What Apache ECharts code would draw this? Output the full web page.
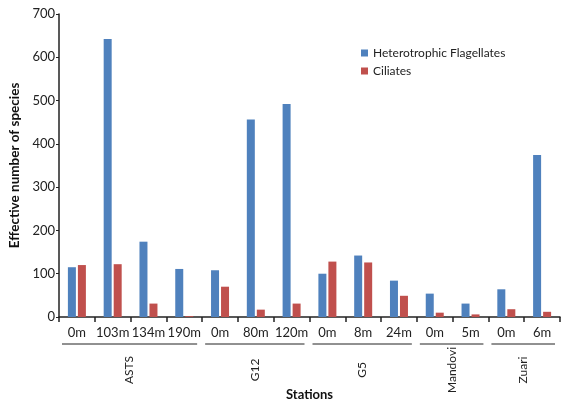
<!DOCTYPE html>
<html>
<head>
<meta charset="utf-8">
<script src="https://cdn.jsdelivr.net/npm/echarts@6/dist/echarts.min.js"></script>
<style>html,body{margin:0;padding:0;background:#fff;}#c{width:564px;height:402px;}</style>
</head>
<body>
<div id="c"></div>
<script>
const categories = ['0m','103m','134m','190m','0m','80m','120m','0m','8m','24m','0m','5m','0m','6m'];
const flagellates = [115, 642, 174, 111, 108, 456, 492, 100, 142, 84, 54, 31, 64, 374];
const ciliates = [120, 122, 31, 2, 70, 17, 31, 128, 126, 49, 10, 6, 18, 12];
const groupNames = ['ASTS', 'G12', 'G5', 'Mandovi', 'Zuari'];
const groupStart = [0, 4, 7, 10, 12];
const groupEnd = [3, 6, 9, 11, 13];
const yTicks = [0, 100, 200, 300, 400, 500, 600, 700];

const FONT = 'Lato';
const chart = echarts.init(document.getElementById('c'));
const groupData = groupNames.map((n, i) => [groupStart[i], groupEnd[i], n]);

chart.setOption({
  animation: false,
  textStyle: { fontFamily: FONT },
  grid: { left: 59, right: 4, top: 14, bottom: 85, containLabel: false, outerBoundsMode: 'none' },
  legend: {
    orient: 'vertical', left: 356, top: 42,
    itemWidth: 7, itemHeight: 7, itemGap: 6,
    icon: 'rect',
    textStyle: { fontFamily: FONT, fontSize: 12, color: '#222' },
    data: ['Heterotrophic Flagellates', 'Ciliates']
  },
  xAxis: {
    type: 'category', data: categories,
    name: 'Stations', nameLocation: 'middle', nameGap: 71,
    nameTextStyle: { fontFamily: FONT, fontWeight: 'bold', fontSize: 13, color: '#111' },
    axisLine: { lineStyle: { color: '#222', width: 1.5 } },
    axisTick: { show: true, alignWithLabel: false, length: 5, lineStyle: { color: '#222', width: 1.5 } },
    axisLabel: { fontFamily: FONT, fontSize: 13, color: '#222', margin: 9, interval: 0 }
  },
  yAxis: {
    type: 'value', min: 0, max: 700, interval: 100,
    name: 'Effective number of species', nameLocation: 'middle', nameGap: 37,
    nameTextStyle: { fontFamily: FONT, fontWeight: 'bold', fontSize: 13.5, color: '#111' },
    axisLine: { show: true, lineStyle: { color: '#222', width: 1.5 } },
    axisTick: { show: true, length: 3, lineStyle: { color: '#222', width: 1 } },
    axisLabel: { fontFamily: FONT, fontSize: 13, color: '#222', margin: 4,
      formatter: v => yTicks.indexOf(v) >= 0 ? String(v) : '' },
    splitLine: { show: false }
  },
  series: [
    { name: 'Heterotrophic Flagellates', type: 'bar', data: flagellates,
      barWidth: 8, barGap: '25%', itemStyle: { color: '#4F81BD' } },
    { name: 'Ciliates', type: 'bar', data: ciliates,
      barWidth: 8, barGap: '25%', itemStyle: { color: '#C0504D' } },
    { type: 'custom', data: groupData, clip: false, silent: true,
      encode: { x: [0, 1], y: -1 },
      renderItem: function (params, api) {
        const s = api.coord([api.value(0), 0]);
        const e = api.coord([api.value(1), 0]);
        const w = api.size([1, 0])[0];
        const x1 = s[0] - w / 2 + 3;
        const x2 = e[0] + w / 2 - 5;
        const y = s[1] + 27;
        const name = groupData[params.dataIndex][2];
        return { type: 'group', children: [
          { type: 'line', shape: { x1: x1, y1: y, x2: x2, y2: y }, style: { stroke: '#222', lineWidth: 1 } },
          { type: 'text', x: (x1 + x2) / 2, y: s[1] + 53, rotation: Math.PI / 2,
            style: { text: name, align: 'center', verticalAlign: 'middle', fontFamily: FONT, fontSize: 12, fill: '#222' } }
        ]};
      }
    }
  ]
});
</script>
</body>
</html>
